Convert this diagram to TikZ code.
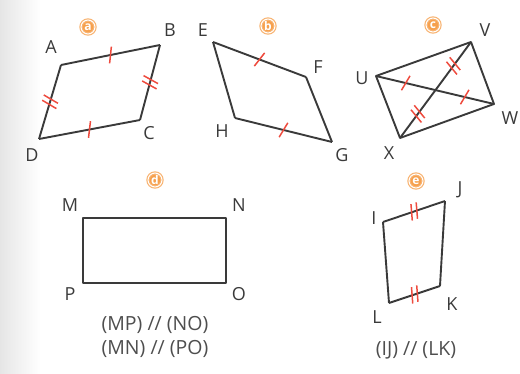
\documentclass[tikz,border=0pt]{standalone}
\usepackage{fontspec}
\setmainfont{Open Sans}
\usepackage{xcolor}
\usetikzlibrary{positioning, decorations.markings}

\definecolor{edgegray}{HTML}{3A3A3A}
\definecolor{tickred}{HTML}{EE4B3E}
\definecolor{badgeorange}{HTML}{F6A04D}

\begin{document}
\begin{tikzpicture}[
    x=1pt, y=-1pt,
    side/.style={
        draw=edgegray,
        line width=1.9pt,
        line join=round
    },
    lbl/.style={
        text=edgegray,
        font=\fontsize{18}{20}\selectfont,
        inner sep=0pt
    },
    badge/.style={
        circle,
        fill=badgeorange,
        draw=badgeorange!80,
        double=white,
        double distance=1pt,
        line width=1.2pt,
        minimum size=14pt,
        inner sep=0pt,
        text=white,
        font=\fontsize{12}{12}\selectfont\bfseries
    },
    onetick/.style={
        postaction={decorate, decoration={markings,
            mark=at position 0.5 with {\draw[tickred, line width=1.5pt] (-2.5pt,-8pt) -- (2.5pt,8pt);}}}
    },
    twotick/.style={
        postaction={decorate, decoration={markings,
            mark=at position 0.5 with {
                \draw[tickred, line width=1.5pt] (-4.5pt,-8pt) -- (-0.5pt,8pt);
                \draw[tickred, line width=1.5pt] (1pt,-8pt) -- (5pt,8pt);}}}
    },
    note/.style={
        text=edgegray!90,
        font=\fontsize{19.5}{24}\selectfont,
        align=center
    }
]

% Frame and faint left shadow
\useasboundingbox (0,0) rectangle (520,374);
\shade[left color=black!10, right color=white] (0,0) rectangle (40,374);

% Figure a
\coordinate (A) at (61,65);
\coordinate (B) at (160,45);
\coordinate (C) at (140,120);
\coordinate (D) at (39,139);
\node[badge] (ba) at (88,27) {a};
\node[lbl] (lA) at (51,47) {A};
\node[lbl] (lB) at (170,30) {B};
\node[lbl] (lC) at (149,133) {C};
\node[lbl] (lD) at (32,155) {D};
\draw[side, onetick] (A) -- (B);
\draw[side, twotick] (C) -- (B);
\draw[side, onetick] (D) -- (C);
\draw[side, twotick] (D) -- (A);

% Figure b
\coordinate (E) at (213,42);
\coordinate (F) at (306,77);
\coordinate (G) at (332,142);
\coordinate (H) at (235,118);
\node[badge] (bb) at (268,26) {b};
\node[lbl] (lE) at (203,30) {E};
\node[lbl] (lF) at (318,67) {F};
\node[lbl] (lG) at (342,155) {G};
\node[lbl] (lH) at (222,131) {H};
\draw[side, onetick] (E) -- (F);
\draw[side] (F) -- (G);
\draw[side, onetick] (H) -- (G);
\draw[side] (H) -- (E);

% Figure c
\coordinate (U) at (376,76);
\coordinate (V) at (471,42);
\coordinate (W) at (494,104);
\coordinate (X) at (400,138);
\coordinate (Oc) at (intersection of U--W and V--X);
\node[badge] (bc) at (433,25) {c};
\node[lbl] (lU) at (362,78) {U};
\node[lbl] (lV) at (485,30) {V};
\node[lbl] (lW) at (510,118) {W};
\node[lbl] (lX) at (389,153) {X};
\draw[side] (U) -- (V) -- (W) -- (X) -- cycle;
\draw[side, onetick] (U) -- (Oc);
\draw[side, onetick] (Oc) -- (W);
\draw[side, twotick] (X) -- (Oc);
\draw[side, twotick] (Oc) -- (V);

% Figure d
\coordinate (M) at (83,218);
\coordinate (N) at (226,218);
\coordinate (O) at (226,283);
\coordinate (P) at (83,283);
\node[badge] (bd) at (155,180) {d};
\node[lbl] (lM) at (70,205) {M};
\node[lbl] (lN) at (239,205) {N};
\node[lbl] (lO) at (239,294) {O};
\node[lbl] (lP) at (70,294) {P};
\draw[side] (M) -- (N) -- (O) -- (P) -- cycle;
\node[note] (nd) at (155,337) {(MP) // (NO)\\(MN) // (PO)};

% Figure e
\coordinate (I) at (383,222);
\coordinate (J) at (445,201);
\coordinate (K) at (440,286);
\coordinate (L) at (389,303);
\node[badge] (be) at (416,181) {e};
\node[lbl] (lI) at (374,218) {I};
\node[lbl] (lJ) at (460,190) {J};
\node[lbl] (lK) at (452,304) {K};
\node[lbl] (lL) at (377,317) {L};
\draw[side, twotick] (I) -- (J);
\draw[side] (J) -- (K);
\draw[side, twotick] (L) -- (K);
\draw[side] (L) -- (I);
\node[note] (ne) at (416,350) {(IJ) // (LK)};

\end{tikzpicture}
\end{document}
